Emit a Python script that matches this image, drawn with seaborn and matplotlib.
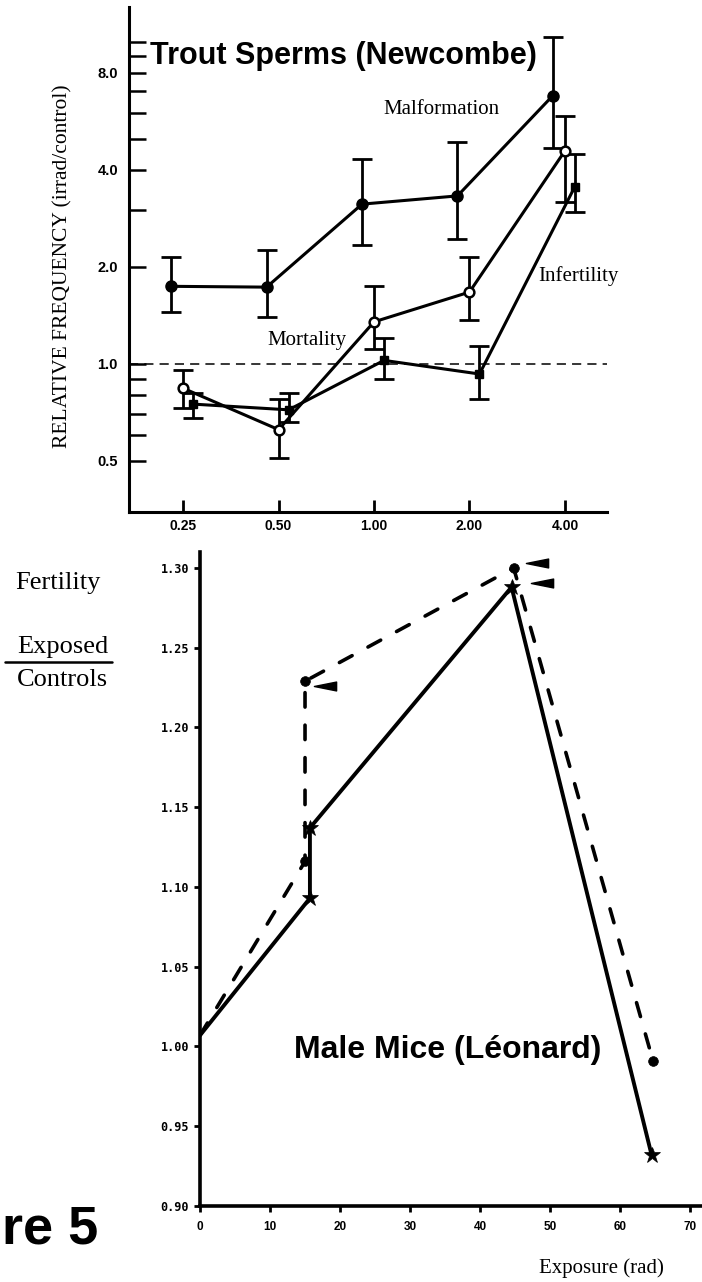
import numpy as np
import pandas as pd
import seaborn as sns
import matplotlib
matplotlib.use("Agg")
import matplotlib.pyplot as plt
from matplotlib.transforms import ScaledTranslation, offset_copy
from matplotlib.path import Path
from matplotlib.ticker import NullLocator, FixedLocator, NullFormatter

# ---------------- data: trout sperms (Newcombe) ----------------
doses = [0.25, 0.5, 1.0, 2.0, 4.0]
dose_labels = ["0.25", "0.50", "1.00", "2.00", "4.00"]
malf = [1.74, 1.73, 3.13, 3.32, 6.80]
malf_lo = [1.45, 1.40, 2.33, 2.44, 4.69]
malf_hi = [2.15, 2.26, 4.32, 4.87, 10.3]
mort = [0.84, 0.625, 1.35, 1.67, 4.58]
mort_lo = [0.73, 0.51, 1.11, 1.37, 3.17]
mort_hi = [0.96, 0.78, 1.75, 2.15, 5.89]
infert = [0.75, 0.72, 1.025, 0.93, 3.55]
infert_lo = [0.68, 0.66, 0.90, 0.78, 2.95]
infert_hi = [0.81, 0.81, 1.20, 1.14, 4.48]
trout_yticks = [0.5, 1.0, 2.0, 4.0, 8.0]
trout_ylabels = ["0.5", "1.0", "2.0", "4.0", "8.0"]
trout_minor = [0.6, 0.7, 0.8, 0.9, 3, 5, 6, 7, 9, 10]

# ---------------- data: male mice (Leonard) ----------------
solid_x = [0, 15.7, 15.7, 44.5, 64.5]
solid_y = [1.007, 1.093, 1.137, 1.288, 0.932]
dash_x = [0, 15.0, 15.0, 44.8, 64.7]
dash_y = [1.007, 1.116, 1.229, 1.300, 0.991]
mice_xticks = [0, 10, 20, 30, 40, 50, 60, 70]
mice_yticks = [0.90, 0.95, 1.00, 1.05, 1.10, 1.15, 1.20, 1.25, 1.30]
mice_ylabels = ["0.90", "0.95", "1.00", "1.05", "1.10", "1.15", "1.20", "1.25", "1.30"]

sns.set_theme(style="white")
plt.rcParams["font.family"] = ["Liberation Sans", "DejaVu Sans"]
for key in ["text.color", "axes.labelcolor", "xtick.color", "ytick.color",
            "axes.edgecolor"]:
    plt.rcParams[key] = "black"

W, H = 702, 1282
fig = plt.figure(figsize=(W / 100, H / 100), dpi=100)

def fx(px):
    return px / W

def fy(py):
    return 1 - py / H

SERIF = ["Liberation Serif", "DejaVu Serif"]
SANS = ["Liberation Sans", "DejaVu Sans"]

# ======================= top panel =======================
ax1 = fig.add_axes([fx(129), fy(512), fx(607) - fx(129), fy(7) - fy(512)])
ax1.set_xscale("log", base=2)
ax1.set_yscale("log", base=2)
ax1.set_xlim(0.1687, 5.43)
ax1.set_ylim(0.347, 12.8)

def shifted(dx_px):
    return ax1.transData + ScaledTranslation(dx_px / 100, 0, fig.dpi_scale_trans)

series = [
    (malf, malf_lo, malf_hi, -12, dict(marker="o", markersize=8, mfc="black", mec="black", mew=1)),
    (mort, mort_lo, mort_hi, 0, dict(marker="o", markersize=7, mfc="white", mec="black", mew=1.8)),
    (infert, infert_lo, infert_hi, 10, dict(marker="s", markersize=6, mfc="black", mec="black", mew=1)),
]
for vals, lo, hi, dx, mk in series:
    yerr = [np.array(vals) - np.array(lo), np.array(hi) - np.array(vals)]
    eb = ax1.errorbar(doses, vals, yerr=yerr, fmt="none", ecolor="black",
                      elinewidth=2.0, capsize=7, capthick=2.0, zorder=3)
    for a in list(eb[1]) + list(eb[2]):
        a.set_transform(shifted(dx))
    df = pd.DataFrame({"dose": doses, "val": vals})
    sns.lineplot(data=df, x="dose", y="val", ax=ax1, estimator=None, sort=False,
                 color="black", lw=2.2, zorder=4, **mk)
    ax1.lines[-1].set_transform(shifted(dx))

ax1.axhline(1.0, color="black", lw=1.1, linestyle=(0, (6, 4)), zorder=2)

ax1.set_xticks(doses)
ax1.set_xticklabels(dose_labels)
ax1.xaxis.set_minor_locator(NullLocator())
ax1.yaxis.set_major_locator(FixedLocator(trout_yticks))
ax1.set_yticklabels(trout_ylabels)
ax1.yaxis.set_minor_locator(FixedLocator(trout_minor))
ax1.yaxis.set_minor_formatter(NullFormatter())
ax1.tick_params(axis="y", which="both", direction="in", length=12, width=1.8,
                pad=8, left=True, labelsize=10.5, color="black", labelcolor="black")
ax1.tick_params(axis="x", which="major", direction="in", length=9, width=2,
                pad=5, bottom=True, labelsize=10, color="black", labelcolor="black")
for lab in ax1.get_xticklabels() + ax1.get_yticklabels():
    lab.set_fontweight("bold")
    lab.set_family(SANS)
for s in ["top", "right"]:
    ax1.spines[s].set_visible(False)
for s in ["left", "bottom"]:
    ax1.spines[s].set_linewidth(2.2)
    ax1.spines[s].set_color("black")
ax1.set_xlabel("")
ax1.set_ylabel("")
ax1.patch.set_alpha(0)

fig.text(fx(150), fy(56), "Trout Sperms (Newcombe)", ha="left", va="center",
         fontsize=22, fontweight="bold", family=SANS, color="black")
fig.text(fx(383), fy(109), "Malformation", ha="left", va="center", fontsize=15,
         family=SERIF, color="black")
fig.text(fx(538), fy(276), "Infertility", ha="left", va="center", fontsize=15,
         family=SERIF, color="black")
fig.text(fx(267), fy(341), "Mortality", ha="left", va="center", fontsize=15,
         family=SERIF, color="black")
fig.text(fx(63), fy(266), "RELATIVE FREQUENCY (irrad/control)", rotation=90,
         ha="center", va="center", fontsize=15.5, family=SERIF, color="black")

# ======================= bottom panel =======================
ax2 = fig.add_axes([fx(200), fy(1206), fx(702) - fx(200), fy(552) - fy(1206)])
ax2.set_xlim(0, 71.7)
ax2.set_ylim(0.90, 1.31)

dfs = pd.DataFrame({"x": solid_x, "y": solid_y})
sns.lineplot(data=dfs, x="x", y="y", ax=ax2, estimator=None, sort=False,
             color="black", lw=2.8, marker="*", markersize=12, mfc="black",
             mec="black", mew=0.5, markevery=[1, 2, 3, 4], zorder=4)
dfd = pd.DataFrame({"x": dash_x, "y": dash_y})
sns.lineplot(data=dfd, x="x", y="y", ax=ax2, estimator=None, sort=False,
             color="black", lw=2.6, linestyle=(0, (4, 5)), dash_capstyle="round",
             marker="o", markersize=7, mfc="black", mec="black", mew=0.5,
             markevery=[1, 2, 3, 4], zorder=4)

arrow_path = Path([(-1, 0), (1, 0.4), (1, -0.4), (-1, 0)],
                  [Path.MOVETO, Path.LINETO, Path.LINETO, Path.CLOSEPOLY])
arrows = [(dash_x[2], dash_y[2], 20, -5), (dash_x[3], dash_y[3], 23, 5),
          (solid_x[3], solid_y[3], 30, 4)]
for xa, ya, ox, oy in arrows:
    tr = offset_copy(ax2.transData, fig=fig, x=ox, y=oy, units="dots")
    ax2.plot([xa], [ya], marker=arrow_path, markersize=16, color="black",
             mec="black", transform=tr, zorder=5, clip_on=False)

ax2.set_xticks(mice_xticks)
ax2.set_xticklabels([str(v) for v in mice_xticks])
ax2.set_yticks(mice_yticks)
ax2.set_yticklabels(mice_ylabels)
ax2.tick_params(axis="both", which="major", direction="out", length=4, width=2,
                left=True, bottom=True, labelsize=8.5, color="black", labelcolor="black")
ax2.tick_params(axis="y", pad=4)
ax2.tick_params(axis="x", pad=7)
for lab in ax2.get_xticklabels():
    lab.set_fontweight("bold")
    lab.set_family(SANS)
for lab in ax2.get_yticklabels():
    lab.set_fontweight("bold")
    lab.set_family(["DejaVu Sans Mono"])
for s in ["top", "right"]:
    ax2.spines[s].set_visible(False)
for s in ["left", "bottom"]:
    ax2.spines[s].set_linewidth(2.6)
    ax2.spines[s].set_color("black")
ax2.set_xlabel("")
ax2.set_ylabel("")
ax2.patch.set_alpha(0)

fig.text(fx(58), fy(583), "Fertility", ha="center", va="center", fontsize=19,
         family=SERIF, color="black")
fig.text(fx(63), fy(647), "Exposed", ha="center", va="center", fontsize=19,
         family=SERIF, color="black")
fig.text(fx(62), fy(680), "Controls", ha="center", va="center", fontsize=19,
         family=SERIF, color="black")
fig.add_artist(plt.Line2D([fx(5), fx(112)], [fy(662), fy(662)], color="black", lw=1.8,
                          transform=fig.transFigure))
fig.text(fx(448), fy(1050), "Male Mice (Léonard)", ha="center", va="center",
         fontsize=23, fontweight="bold", family=SANS, color="black")
fig.text(fx(2), fy(1243), "re 5", ha="left", va="baseline",
         fontsize=39, fontweight="bold", family=SANS, color="black")
fig.text(fx(601), fy(1268), "Exposure (rad)", ha="center", va="center",
         fontsize=15, family=SERIF, color="black")

fig.savefig("out.png", dpi=100)
